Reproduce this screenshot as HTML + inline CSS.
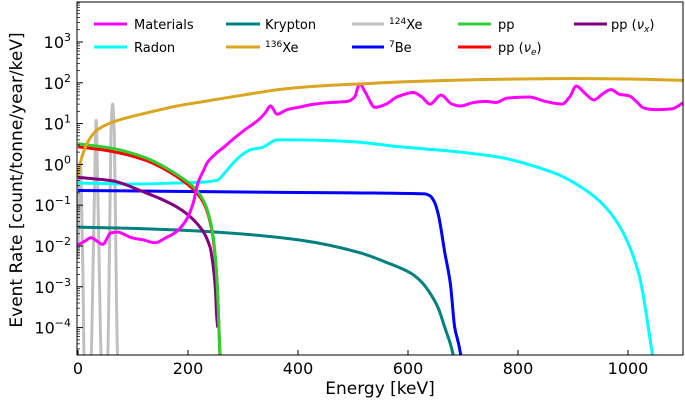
<!DOCTYPE html>
<html><head><meta charset="utf-8">
<style>
html,body{margin:0;padding:0;background:#fff;}
svg{display:block;font-family:"DejaVu Sans","Liberation Sans",sans-serif;}
</style></head>
<body>
<svg id="chart" width="685" height="405" viewBox="0 0 685 405" xmlns="http://www.w3.org/2000/svg">
<defs><clipPath id="plotclip"><rect x="77" y="2" width="606" height="353"/></clipPath></defs>
<g id="series" clip-path="url(#plotclip)"></g>
<rect x="77" y="2" width="606" height="353" fill="none" stroke="#000" stroke-width="1"/>
<g id="axes"></g>
<text x="380" y="394" font-size="17" text-anchor="middle">Energy [keV]</text>
<text transform="translate(22,180) rotate(-90)" font-size="17" text-anchor="middle">Event Rate [count/tonne/year/keV]</text>
<g font-size="13">
  <g><line x1="94" y1="24" x2="127" y2="24" stroke="#ff00ff" stroke-width="3"/><text x="134" y="29">Materials</text></g>
  <g><line x1="94" y1="47" x2="127" y2="47" stroke="#00ffff" stroke-width="3"/><text x="134" y="52">Radon</text></g>
  <g><line x1="226" y1="24" x2="260" y2="24" stroke="#008080" stroke-width="3"/><text x="265" y="29">Krypton</text></g>
  <g><line x1="226" y1="47" x2="260" y2="47" stroke="#daa520" stroke-width="3"/><text x="265" y="52"><tspan font-size="9" dy="-5">136</tspan><tspan dy="5">Xe</tspan></text></g>
  <g><line x1="352" y1="24" x2="384" y2="24" stroke="#c0c0c0" stroke-width="3"/><text x="389" y="29"><tspan font-size="9" dy="-5">124</tspan><tspan dy="5">Xe</tspan></text></g>
  <g><line x1="352" y1="47" x2="384" y2="47" stroke="#0000ff" stroke-width="3"/><text x="389" y="52"><tspan font-size="9" dy="-5">7</tspan><tspan dy="5">Be</tspan></text></g>
  <g><line x1="458" y1="24" x2="491" y2="24" stroke="#32cd32" stroke-width="3"/><text x="498" y="29">pp</text></g>
  <g><line x1="458" y1="47" x2="491" y2="47" stroke="#ff0000" stroke-width="3"/><text x="498" y="52">pp (<tspan font-style="italic">ν</tspan><tspan font-size="9" font-style="italic" dy="3">e</tspan><tspan dy="-3">)</tspan></text></g>
  <g><line x1="574" y1="24" x2="607" y2="24" stroke="#800080" stroke-width="3"/><text x="611" y="29">pp (<tspan font-style="italic">ν</tspan><tspan font-size="9" font-style="italic" dy="3">x</tspan><tspan dy="-3">)</tspan></text></g>
</g>
</svg>
<script>
// ---- data ----
const xTicks = [0, 200, 400, 600, 800, 1000];
const yTickExps = [-4, -3, -2, -1, 0, 1, 2, 3];
const xe136E = [0, 5, 10, 20, 35, 60, 90, 130, 180, 230, 300, 372, 450, 520, 600, 700, 800, 900, 1000, 1100];
const xe136V = [0.5, 1.2, 2.0, 4.0, 7, 10.5, 14, 19, 27, 35, 50, 70, 85, 95, 107, 117, 124, 127, 124, 115];
const materialsE = [0, 12, 24, 35, 45, 60, 72, 85, 97, 120, 140, 160, 176, 190, 200, 210, 218, 228, 236, 250, 266, 285, 303, 327, 340, 350, 362, 380, 400, 430, 460, 490, 503, 512, 522, 540, 560, 580, 610, 625, 640, 660, 680, 695, 720, 740, 760, 780, 800, 820, 850, 880, 894, 906, 922, 938, 955, 969, 985, 1002, 1015, 1029, 1050, 1080, 1100];
const materialsV = [0.0107, 0.013, 0.016, 0.013, 0.011, 0.021, 0.022, 0.019, 0.016, 0.014, 0.012, 0.016, 0.021, 0.032, 0.052, 0.12, 0.35, 0.7, 1.15, 1.8, 2.7, 4.5, 7, 12, 18, 27, 17, 22, 25, 30, 33, 35, 45, 95, 60, 25, 30, 45, 58, 45, 30, 50, 30, 27, 33, 35, 33, 42, 44, 45, 35, 30, 45, 83, 55, 38, 55, 68, 52, 48, 35, 24, 22, 23, 32];
const radonE = [0, 100, 180, 230, 253, 270, 284, 300, 314, 335, 362, 400, 500, 585, 680, 767, 830, 875, 920, 950, 985, 1020, 1045];
const radonV = [0.35, 0.33, 0.35, 0.37, 0.41, 0.7, 1.15, 1.8, 2.3, 2.6, 4, 4, 3.6, 2.7, 2.1, 1.5, 0.9, 0.55, 0.25, 0.12, 0.03, 0.002, 0.00002];
const kryptonE = [0, 100, 200, 313, 403, 513, 560, 604, 625, 640, 655, 667, 677, 685];
const kryptonV = [0.029, 0.027, 0.024, 0.019, 0.014, 0.0068, 0.004, 0.0022, 0.0013, 0.0007, 0.0003, 0.0001, 0.00004, 0.000015];
const be7E = [0, 150, 300, 500, 630, 640, 648, 655, 667, 677, 685, 692, 698];
const be7V = [0.23, 0.22, 0.21, 0.2, 0.19, 0.17, 0.12, 0.06, 0.0068, 0.0012, 0.0001, 0.00004, 0.000015];
const ppE = [0, 60, 120, 180, 216, 232, 240, 245, 249, 252, 255, 257, 259];
const ppV = [3.2, 2.5, 1.5, 0.56, 0.23, 0.1, 0.044, 0.02, 0.007, 0.002, 0.0003, 0.00005, 0.00001];
const ppNueE = [0, 60, 120, 180, 216, 232, 240, 245, 249, 252, 255, 257, 259];
const ppNueV = [2.7, 2.1, 1.3, 0.5, 0.2, 0.09, 0.04, 0.018, 0.006, 0.002, 0.0003, 0.00005, 0.00001];
const ppNuxE = [0, 60, 120, 180, 216, 240, 246, 250, 252, 254];
const ppNuxV = [0.48, 0.4, 0.21, 0.09, 0.036, 0.0095, 0.003, 0.0008, 0.0002, 0.0001];
const xe124E = [0, 1, 2.5, 4, 5.5, 7, 9, 11, 13, 18, 22, 24, 27, 30, 33, 36, 39, 42, 44, 48, 54, 57, 60, 63, 66, 69, 72, 76];
const xe124V = [0.005, 0.05, 0.5, 1.0, 0.5, 0.05, 0.002, 0.00002, 0.00001, 0.00001, 0.00001, 0.00002, 0.0016, 0.24, 12, 0.24, 0.0016, 0.00002, 0.00001, 0.00001, 0.00002, 0.005, 6, 30, 6, 0.005, 0.00002, 0.00001];

// ---- axes ----
const X0 = 77, X1 = 683, Y0 = 355, YT = 2;
const xMin = 0, xMax = 1100;
const Y3 = 42, dec = 40.8;
function xs(e){ return 78 + (e - xMin) / (xMax - xMin) * (X1 - 78); }
function ys(v){ return Y3 + (3 - Math.log10(v)) * dec; }
const NS = "http://www.w3.org/2000/svg";
const axes = document.getElementById('axes');
const series = document.getElementById('series');

xTicks.forEach(t => {
  const l = document.createElementNS(NS, 'line');
  
  
  l.setAttribute('x1', xs(t)); l.setAttribute('x2', xs(t));
  l.setAttribute('y1', Y0); l.setAttribute('y2', Y0 - 5);
  l.setAttribute('stroke', '#000');
  axes.appendChild(l);
  const tx = document.createElementNS(NS, 'text');
  
  
  tx.setAttribute('x', xs(t)); tx.setAttribute('y', 374);
  tx.setAttribute('font-size', '16'); tx.setAttribute('text-anchor', 'middle');
  tx.textContent = String(t);
  axes.appendChild(tx);
});
yTickExps.forEach(p => {
  const y = ys(Math.pow(10, p));
  const l = document.createElementNS(NS, 'line');
  
  
  l.setAttribute('x1', X0); l.setAttribute('x2', X0 + 6);
  l.setAttribute('y1', y); l.setAttribute('y2', y);
  l.setAttribute('stroke', '#000');
  axes.appendChild(l);
  for (let m = 2; m <= 9; m++) {
    const ym = ys(m * Math.pow(10, p));
    if (ym < YT) continue;
    const mn = document.createElementNS(NS, 'line');
    
    
    mn.setAttribute('x1', X0); mn.setAttribute('x2', X0 + 3);
    mn.setAttribute('y1', ym); mn.setAttribute('y2', ym);
    mn.setAttribute('stroke', '#000'); mn.setAttribute('stroke-width', '0.7');
    axes.appendChild(mn);
  }
  const tx = document.createElementNS(NS, 'text');
  
  
  tx.setAttribute('x', 71); tx.setAttribute('y', y + 6);
  tx.setAttribute('font-size', '16'); tx.setAttribute('text-anchor', 'end');
  const b = document.createElementNS(NS, 'tspan'); b.textContent = '10';
  const s = document.createElementNS(NS, 'tspan');
  s.setAttribute('font-size', '11'); s.setAttribute('dy', '-7');
  s.textContent = p < 0 ? '\u2212' + (-p) : String(p);
  tx.appendChild(b); tx.appendChild(s);
  axes.appendChild(tx);
});
for (let m = 2; m <= 9; m++) {
  const ym = ys(m * 1e-5);
  if (ym > Y0) continue;
  const mn = document.createElementNS(NS, 'line');
  
  
  mn.setAttribute('x1', X0); mn.setAttribute('x2', X0 + 3);
  mn.setAttribute('y1', ym); mn.setAttribute('y2', ym);
  mn.setAttribute('stroke', '#000'); mn.setAttribute('stroke-width', '0.7');
  axes.appendChild(mn);
}

function smoothPath(px, py) {
  const n = px.length;
  if (n < 3) return 'M' + px.map((x, i) => x + ',' + py[i]).join('L');
  const d = [], m = new Array(n);
  for (let i = 0; i < n - 1; i++) d.push((py[i + 1] - py[i]) / (px[i + 1] - px[i]));
  m[0] = d[0]; m[n - 1] = d[n - 2];
  for (let i = 1; i < n - 1; i++) {
    if (d[i - 1] * d[i] <= 0) m[i] = 0;
    else {
      const w1 = 2 * (px[i + 1] - px[i]) + (px[i] - px[i - 1]);
      const w2 = (px[i + 1] - px[i]) + 2 * (px[i] - px[i - 1]);
      m[i] = (w1 + w2) / (w1 / d[i - 1] + w2 / d[i]);
    }
  }
  let s = 'M' + px[0].toFixed(2) + ',' + py[0].toFixed(2);
  for (let i = 0; i < n - 1; i++) {
    const h = px[i + 1] - px[i];
    s += 'C' + (px[i] + h / 3).toFixed(2) + ',' + (py[i] + m[i] * h / 3).toFixed(2) + ' ' +
         (px[i + 1] - h / 3).toFixed(2) + ',' + (py[i + 1] - m[i + 1] * h / 3).toFixed(2) + ' ' +
         px[i + 1].toFixed(2) + ',' + py[i + 1].toFixed(2);
  }
  return s;
}
function drawLine(E, V, color, name, w) {
  const p = document.createElementNS(NS, 'path');
  
  
  p.setAttribute('d', smoothPath(E.map(xs), V.map(ys)));
  p.setAttribute('fill', 'none');
  p.setAttribute('stroke', color);
  p.setAttribute('stroke-width', w || 3);
  p.setAttribute('stroke-linejoin', 'round');
  series.appendChild(p);
}
drawLine(xe124E, xe124V, '#c0c0c0', 'xe124-line', 3);
drawLine(kryptonE, kryptonV, '#008080', 'krypton-line');
drawLine(be7E, be7V, '#0000ff', 'be7-line');
drawLine(radonE, radonV, '#00ffff', 'radon-line');
drawLine(ppNuxE, ppNuxV, '#800080', 'pp-nux-line');
drawLine(ppNueE, ppNueV, '#ff0000', 'pp-nue-line');
drawLine(ppE, ppV, '#32cd32', 'pp-line', 3);
drawLine(materialsE, materialsV, '#ff00ff', 'materials-line');
drawLine(xe136E, xe136V, '#daa520', 'xe136-line');
</script>
</body></html>
